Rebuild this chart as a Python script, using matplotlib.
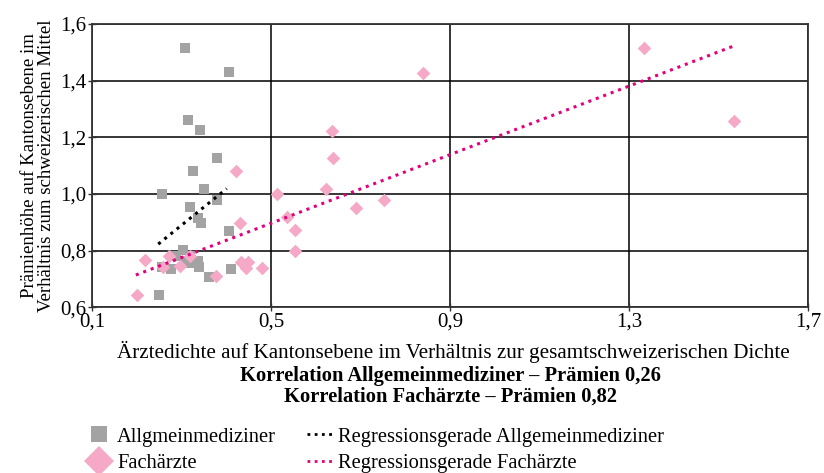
import matplotlib
matplotlib.use("Agg")
import matplotlib.pyplot as plt
from matplotlib.lines import Line2D
from matplotlib.ticker import FuncFormatter

plt.rcParams['font.family'] = ['Liberation Serif', 'DejaVu Serif']

# Allgemeinmediziner (Dichte, Prämie)
gp_x = [0.308, 0.406, 0.314, 0.341, 0.379, 0.326, 0.350, 0.256, 0.379, 0.318,
        0.336, 0.343, 0.406, 0.303, 0.288, 0.318, 0.311, 0.336, 0.256, 0.277,
        0.339, 0.317, 0.361, 0.411, 0.250]
gp_y = [1.514, 1.430, 1.261, 1.225, 1.127, 1.081, 1.018, 1.000, 0.979, 0.954,
        0.916, 0.898, 0.870, 0.802, 0.782, 0.782, 0.764, 0.764, 0.743, 0.736,
        0.743, 0.757, 0.708, 0.736, 0.644]

# Fachärzte
sp_x = [0.421, 0.513, 0.536, 0.431, 0.218, 0.272, 0.319, 0.297, 0.259, 0.433,
        0.449, 0.445, 0.479, 0.376, 0.200, 0.637, 0.639, 0.622, 0.691, 0.554,
        0.554, 0.753, 0.840, 1.333, 1.535]
sp_y = [1.081, 1.001, 0.917, 0.898, 0.767, 0.782, 0.782, 0.745, 0.741, 0.761,
        0.761, 0.737, 0.737, 0.710, 0.644, 1.224, 1.127, 1.017, 0.951, 0.873,
        0.799, 0.978, 1.428, 1.514, 1.257]

# Regressionsgeraden (Endpunkte)
reg_gp_x = [0.248, 0.401]
reg_gp_y = [0.823, 1.019]
reg_sp_x = [0.198, 1.535]
reg_sp_y = [0.714, 1.523]

x_ticks = [0.1, 0.5, 0.9, 1.3, 1.7]
y_ticks = [0.6, 0.8, 1.0, 1.2, 1.4, 1.6]

grey = '#a3a3a3'
pink_pt = '#f5a9c6'
pink_line = '#e4007c'
fs = 14.8

fig = plt.figure(figsize=(8.24, 4.73), dpi=100)
ax = fig.add_axes([92 / 824, 1 - 307.3 / 473, 716 / 824, 283.3 / 473])

ax.scatter(gp_x, gp_y, marker='s', s=50, color=grey, linewidths=0, zorder=3)
ax.scatter(sp_x, sp_y, marker='D', s=48, color=pink_pt, linewidths=0, zorder=3)
ax.plot(reg_gp_x, reg_gp_y, color='black', lw=2.2, dashes=(1, 1.6), zorder=4)
ax.plot(reg_sp_x, reg_sp_y, color=pink_line, lw=2.2, dashes=(1, 1.6), zorder=4)

ax.set_xlim(0.1, 1.7)
ax.set_ylim(0.6, 1.6)
ax.set_xticks(x_ticks)
ax.set_yticks(y_ticks)
comma = FuncFormatter(lambda v, p: f"{v:.1f}".replace('.', ','))
ax.xaxis.set_major_formatter(comma)
ax.yaxis.set_major_formatter(comma)
ax.tick_params(direction='inout', length=6, width=1, labelsize=15, pad=1, color='#333333')
ax.grid(True, color='black', lw=1.1)
ax.set_axisbelow(True)
for s in ax.spines.values():
    s.set_color('#333333')
    s.set_linewidth(1.3)

ax.set_ylabel("Prämienhöhe auf Kantonsebene im\nVerhältnis zum schweizerischen Mittel",
              fontsize=13.6, linespacing=0.95, labelpad=4)

fig.text(453 / 824, 1 - 352 / 473,
         "Ärztedichte auf Kantonsebene im Verhältnis zur gesamtschweizerischen Dichte",
         ha='center', va='center', fontsize=15.2)
fig.text(450 / 824, 1 - 376 / 473, "Korrelation Allgemeinmediziner – Prämien 0,26",
         ha='center', va='center', fontsize=fs, fontweight='bold')
fig.text(450 / 824, 1 - 397 / 473, "Korrelation Fachärzte – Prämien 0,82",
         ha='center', va='center', fontsize=fs, fontweight='bold')

handles = [
    Line2D([], [], marker='s', ls='none', color=grey, markersize=11, markeredgewidth=0),
    Line2D([], [], marker='D', ls='none', color=pink_pt, markersize=15, markeredgewidth=0),
    Line2D([], [], color='black', lw=2, dashes=(1, 1.6)),
    Line2D([], [], color=pink_line, lw=2, dashes=(1, 1.6)),
]
labels = ["Allgmeinmediziner", "Fachärzte",
          "Regressionsgerade Allgemeinmediziner", "Regressionsgerade Fachärzte"]
fig.legend(handles, labels, ncol=2, loc='upper left',
           bbox_to_anchor=(76 / 824, 1 - 417 / 473), frameon=False,
           fontsize=fs, handlelength=1.2, handletextpad=0.3,
           columnspacing=1.5, labelspacing=0.33, borderpad=0)

fig.savefig("out.png", dpi=100)
